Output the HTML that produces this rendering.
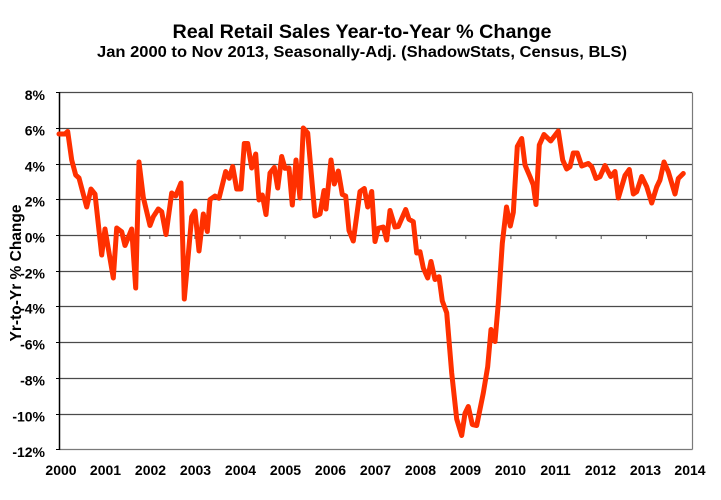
<!DOCTYPE html>
<html>
<head>
<meta charset="utf-8">
<style>
  html, body { margin: 0; padding: 0; background: #ffffff; }
  svg { display: block; }
  text { font-family: "Liberation Sans", Arial, sans-serif; font-weight: bold; fill: #000; }
</style>
</head>
<body>
<svg width="721" height="500" viewBox="0 0 721 500" xmlns="http://www.w3.org/2000/svg">
  <rect x="0" y="0" width="721" height="500" fill="#ffffff"/>

  <!-- Titles -->
  <text x="362" y="38" font-size="19.5" text-anchor="middle" textLength="379" lengthAdjust="spacingAndGlyphs">Real Retail Sales Year-to-Year % Change</text>
  <text x="362" y="57" font-size="16" text-anchor="middle" textLength="530" lengthAdjust="spacingAndGlyphs">Jan 2000 to Nov 2013, Seasonally-Adj. (ShadowStats, Census, BLS)</text>

  <!-- Gridlines -->
  <g stroke="#4a4a4a" stroke-width="1.2" fill="none">
    <line x1="59.5" y1="92.5" x2="692" y2="92.5"/>
    <line x1="59.5" y1="128.5" x2="692" y2="128.5"/>
    <line x1="59.5" y1="164.5" x2="692" y2="164.5"/>
    <line x1="59.5" y1="199.5" x2="692" y2="199.5"/>
    <line x1="59.5" y1="235.5" x2="692" y2="235.5"/>
    <line x1="59.5" y1="271.5" x2="692" y2="271.5"/>
    <line x1="59.5" y1="306.5" x2="692" y2="306.5"/>
    <line x1="59.5" y1="342.5" x2="692" y2="342.5"/>
    <line x1="59.5" y1="378.5" x2="692" y2="378.5"/>
    <line x1="59.5" y1="414.5" x2="692" y2="414.5"/>
  </g>
  <!-- Plot border bottom/right -->
  <g stroke="#7a7a7a" stroke-width="1.2" fill="none">
    <line x1="59.5" y1="449.5" x2="692.5" y2="449.5"/>
    <line x1="692.5" y1="92.5" x2="692.5" y2="449.5"/>
  </g>
  <!-- Left axis -->
  <line x1="59.5" y1="92" x2="59.5" y2="450" stroke="#000" stroke-width="1.5"/>
  <g stroke="#000" stroke-width="1">
    <line x1="56" y1="92.5" x2="59.5" y2="92.5"/>
    <line x1="56" y1="128.5" x2="59.5" y2="128.5"/>
    <line x1="56" y1="164.5" x2="59.5" y2="164.5"/>
    <line x1="56" y1="199.5" x2="59.5" y2="199.5"/>
    <line x1="56" y1="235.5" x2="59.5" y2="235.5"/>
    <line x1="56" y1="271.5" x2="59.5" y2="271.5"/>
    <line x1="56" y1="306.5" x2="59.5" y2="306.5"/>
    <line x1="56" y1="342.5" x2="59.5" y2="342.5"/>
    <line x1="56" y1="378.5" x2="59.5" y2="378.5"/>
    <line x1="56" y1="414.5" x2="59.5" y2="414.5"/>
    <line x1="56" y1="449.5" x2="59.5" y2="449.5"/>
  </g>
  <!-- X ticks on zero line -->
  <g stroke="#555" stroke-width="1">
    <line x1="104.6" y1="235.5" x2="104.6" y2="239"/>
    <line x1="149.8" y1="235.5" x2="149.8" y2="239"/>
    <line x1="194.9" y1="235.5" x2="194.9" y2="239"/>
    <line x1="240.1" y1="235.5" x2="240.1" y2="239"/>
    <line x1="285.2" y1="235.5" x2="285.2" y2="239"/>
    <line x1="330.4" y1="235.5" x2="330.4" y2="239"/>
    <line x1="375.5" y1="235.5" x2="375.5" y2="239"/>
    <line x1="420.6" y1="235.5" x2="420.6" y2="239"/>
    <line x1="465.8" y1="235.5" x2="465.8" y2="239"/>
    <line x1="510.9" y1="235.5" x2="510.9" y2="239"/>
    <line x1="556.1" y1="235.5" x2="556.1" y2="239"/>
    <line x1="601.2" y1="235.5" x2="601.2" y2="239"/>
    <line x1="646.4" y1="235.5" x2="646.4" y2="239"/>
  </g>

  <!-- Y tick labels -->
  <g font-size="14" text-anchor="end">
    <text x="45" y="100">8%</text>
    <text x="45" y="135.5">6%</text>
    <text x="45" y="171.5">4%</text>
    <text x="45" y="206.5">2%</text>
    <text x="45" y="242.5">0%</text>
    <text x="45" y="278.5">-2%</text>
    <text x="45" y="313.5">-4%</text>
    <text x="45" y="349.5">-6%</text>
    <text x="45" y="385.5">-8%</text>
    <text x="45" y="421.5">-10%</text>
    <text x="45" y="457">-12%</text>
  </g>

  <!-- X tick labels -->
  <g font-size="14" text-anchor="middle">
    <text x="61" y="475">2000</text>
    <text x="105.5" y="475">2001</text>
    <text x="150.5" y="475">2002</text>
    <text x="195.5" y="475">2003</text>
    <text x="240.5" y="475">2004</text>
    <text x="285.5" y="475">2005</text>
    <text x="330.5" y="475">2006</text>
    <text x="375.5" y="475">2007</text>
    <text x="420.5" y="475">2008</text>
    <text x="465.5" y="475">2009</text>
    <text x="510.5" y="475">2010</text>
    <text x="555.5" y="475">2011</text>
    <text x="600.5" y="475">2012</text>
    <text x="645.5" y="475">2013</text>
    <text x="690" y="475">2014</text>
  </g>

  <!-- Y axis title -->
  <text transform="translate(21,273) rotate(-90)" font-size="15.5" text-anchor="middle">Yr-to-Yr % Change</text>

  <!-- Data series -->
  <polyline fill="none" stroke="#ff3000" stroke-width="5" stroke-linejoin="round" stroke-linecap="round"
    points="59,134 65,134 67.7,131.5 71.7,160 75.7,175 79,178 86.7,207 91,189 95,194 101.7,255 105,229 113.3,278 116.7,228 121.7,231.7 125,245.5 131.7,229 135.7,288 139,162 143.3,197.3 150,225.5 153.3,216.7 158.3,209 161.7,211.7 166,234.5 171.7,193 175.7,196 181,183 184.3,299 191.7,216.7 195,211 199,251 203.3,214 207.3,231.5 210,199.5 215,196 219,198.3 225.7,171.5 229.3,178.3 232.7,166.5 236.7,189 241,189 244.3,143.5 247.7,143.5 251.7,168 255.7,154 259,200 262.3,195 266,214.5 270,173 274.3,167.5 277.7,188 281.7,156.5 285,168.3 289,168 292.3,205 296,160 300,198 303.3,128 307.7,133 315,216 320,214 324,190.5 326,209 331,160 334.3,184 338.3,171 342.3,194.5 345.7,196 349,230.5 353.3,241 360,191.5 364.3,188.5 367.7,207 371.7,191.5 375,241.5 378.3,228.3 383.3,227 386.7,240 390,210.5 395,227 398.3,226.5 405.7,209.5 409,219.3 413.3,221.7 416.7,253 420,251.7 423.3,268 427.7,278 431,261.5 435,279.5 439,276.7 442.3,301 446.7,312.7 451.7,373 456.7,419 461.7,435.5 465,413.3 468.3,406.5 472.3,424.5 476.7,425.5 483.3,393 487.7,366.7 491,329.5 495,341.5 498.3,303.3 502.3,243.3 506.5,207 510.3,226 513.3,212.5 517.3,146.5 521.7,138.5 525,165 530,176.7 533.3,185 536,204.5 539.3,145 544,134.5 550.7,141 558.3,131 562.7,160 566.7,169 570,166.7 573.3,153 577.3,153 581.7,166 588.3,163.5 591.7,166.7 596,178.5 600,176.7 605,165.5 610.7,176.5 615,171.5 618.3,198 625,175.5 629.3,169.5 633.3,194 636.7,191.7 641.7,176.5 646.7,186.7 651.7,203 656.7,187 660,180 664,162 668.3,171.7 675,194 678.3,178.5 683.3,173.5"/>
</svg>
</body>
</html>
